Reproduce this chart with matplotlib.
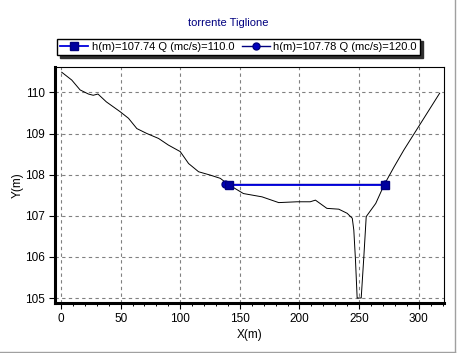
import matplotlib.pyplot as plt
from matplotlib.lines import Line2D

plt.rcParams['font.family'] = ['Liberation Sans', 'DejaVu Sans']

# terrain profile
prof_x = [0.6, 9, 16, 23, 27, 31, 38, 49.6, 56.6, 63.6, 72, 81.8, 90, 100,
          107, 115.4, 125, 133.6, 139, 145, 153, 168.6, 182.6, 198, 209,
          213.4, 223, 233, 240, 244.3, 245.6, 247, 248.4, 251.8, 254, 256,
          264, 271, 279.4, 287.6, 317.6]
prof_y = [110.49, 110.3, 110.06, 109.96, 109.93, 109.96, 109.77, 109.53,
          109.37, 109.12, 109.0, 108.88, 108.72, 108.56, 108.27, 108.07,
          107.99, 107.91, 107.79, 107.68, 107.54, 107.46, 107.32, 107.34,
          107.34, 107.38, 107.18, 107.16, 107.06, 106.94, 106.65, 105.92,
          105.0, 105.0, 106.0, 106.98, 107.3, 107.75, 108.19, 108.6, 109.98]

# water levels
wl1_x = [141.0, 271.5]
wl1_h = 107.74
wl2_x = [137.5, 272.0]
wl2_h = 107.78
lab1 = "h(m)=107.74 Q (mc/s)=110.0"
lab2 = "h(m)=107.78 Q (mc/s)=120.0"

fig = plt.figure(figsize=(4.58, 3.53), dpi=100)
ax = fig.add_axes([55.3 / 458, 1 - 302.7 / 353, 389 / 458, 235.4 / 353])

ax.plot(prof_x, prof_y, color='black', lw=0.7, zorder=2)
l2, = ax.plot(wl2_x, [wl2_h] * 2, color='#000080', lw=1.0, marker='o',
              ms=5, mfc='#0000c0', mec='#000080', zorder=3, label=lab2)
l1, = ax.plot(wl1_x, [wl1_h] * 2, color='#0000dd', lw=1.3, marker='s',
              ms=6, mfc='#0000a0', mec='#000080', zorder=4, label=lab1)

ax.set_xlim(-4.8, 321.5)
ax.set_ylim(104.886, 110.61)
ax.set_xticks(range(0, 301, 50))
ax.set_xticks(range(0, 321, 10), minor=True)
ax.set_yticks(range(105, 111))
ax.grid(True, which='major', ls=(0, (3, 3)), color='#808080', lw=0.8)
ax.tick_params(labelsize=8.5, length=4, width=0.8, color='black')
ax.tick_params(which='minor', length=2.5, width=0.7)
for s in ['left', 'bottom']:
    ax.spines[s].set_linewidth(2.2)
for s in ['top', 'right']:
    ax.spines[s].set_linewidth(0.8)

ax.set_xlabel("X(m)", fontsize=8.5, labelpad=3)
ax.set_ylabel("Y(m)", fontsize=8.5, labelpad=1)

fig.text(228 / 458, 1 - 23 / 353, "torrente Tiglione", ha='center',
         va='center', fontsize=8, color='#000080')

leg = fig.legend(handles=[l1, l2], loc='center',
                 bbox_to_anchor=(238.5 / 458, 1 - 47 / 353), ncol=2,
                 fontsize=8, frameon=True, fancybox=False,
                 shadow={'color': '#303030', 'alpha': 1.0},
                 handlelength=2.5, handletextpad=0.3, columnspacing=0.7,
                 borderpad=0.3, borderaxespad=0)
leg.get_frame().set_edgecolor('black')
leg.get_frame().set_linewidth(1.0)

# window border on right and bottom
fig.add_artist(Line2D([454.5 / 458, 454.5 / 458], [0, 1], color='#a0a0a0',
                      lw=1.0, transform=fig.transFigure))
fig.add_artist(Line2D([0, 454.5 / 458], [1.5 / 353, 1.5 / 353],
                      color='#a0a0a0', lw=1.0, transform=fig.transFigure))

fig.savefig("out.png", dpi=100)
